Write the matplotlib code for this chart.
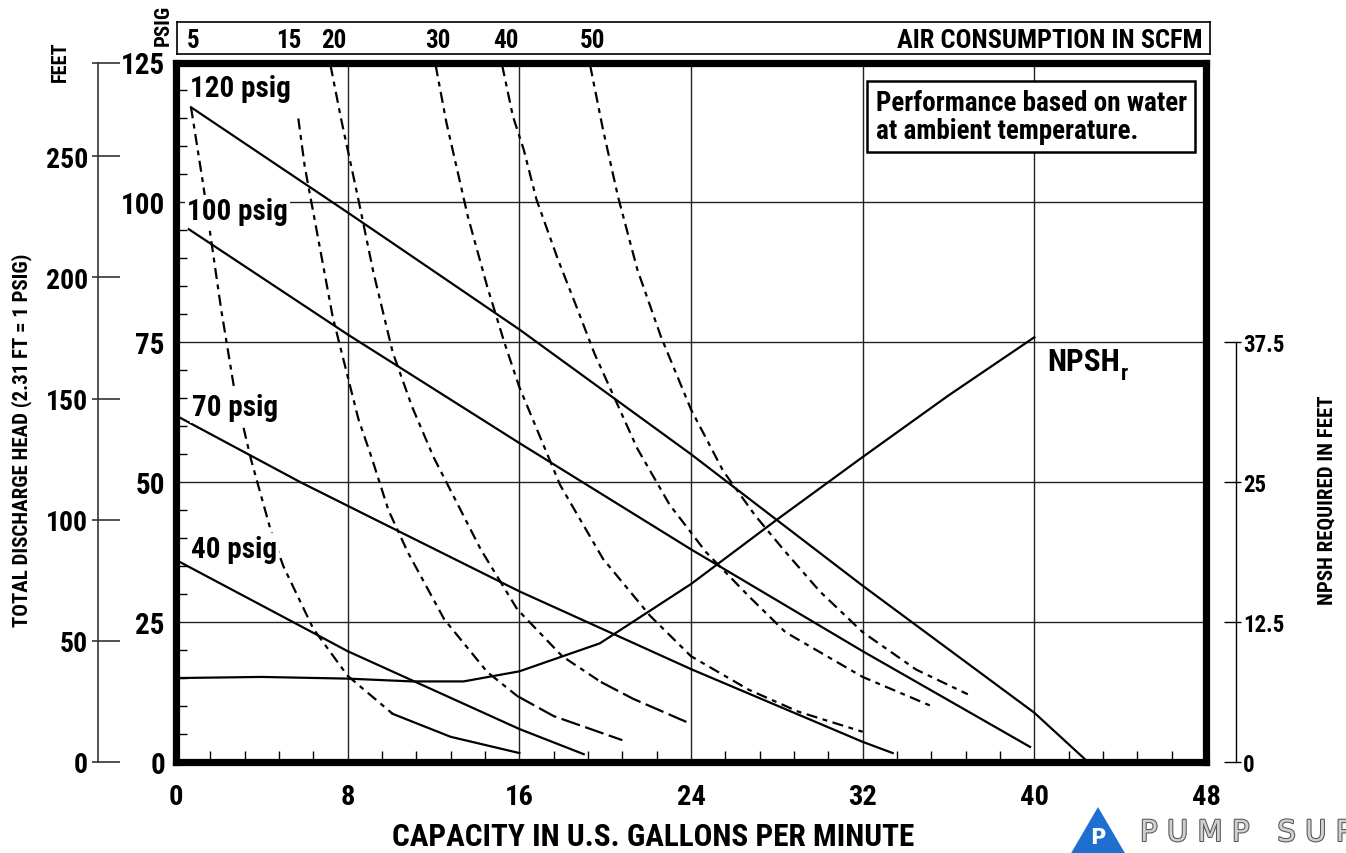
import os
import matplotlib
matplotlib.use("Agg")
import matplotlib.pyplot as plt
import matplotlib.font_manager as fm
from matplotlib.patches import Polygon
import matplotlib.patheffects as pe

# --- data (capacity in gpm, head in psig) ---
# pump curves at constant air inlet pressure
psig120_gpm = [0.7, 8, 16, 24, 32, 40, 42.5]
psig120_head = [117, 98.2, 77.3, 55, 31.5, 8.8, 0]
psig100_gpm = [0.6, 8, 16, 24, 32, 39.8]
psig100_head = [95.2, 76.4, 57, 38, 19.8, 2.7]
psig70_gpm = [0.15, 5.8, 9.06, 16, 24, 32, 33.4]
psig70_head = [61.6, 50, 43.75, 30.5, 16.6, 3.6, 1.6]
psig40_gpm = [0.1, 5.8, 8, 16, 19]
psig40_head = [35.9, 24.3, 19.8, 5.9, 1.4]

pressure_labels = ['120 psig', '100 psig', '70 psig', '40 psig']

# air consumption curves (SCFM)
scfm5_gpm = [0.7, 1.25, 2.1, 2.7, 3.5, 4.4, 5.0, 6.4, 8.0, 10.1, 12.8, 16.0]
scfm5_head = [117, 103.6, 81, 67, 54, 41.6, 35, 23.8, 15.4, 8.6, 4.5, 1.6]
scfm15_gpm = [5.7, 6.0, 6.7, 7.3, 8.0, 8.5, 9.1, 9.9, 10.8, 12.5, 14.5, 15.9, 17.6, 20.8]
scfm15_head = [115, 106.4, 92, 79.6, 68.9, 61.3, 54.6, 45, 37.5, 25.5, 16.1, 11.8, 8.2, 3.9]
scfm20_gpm = [7.2, 7.7, 8.5, 9.2, 10.1, 11.0, 12.0, 14.2, 15.9, 18.0, 19.8, 21.3, 24.0]
scfm20_head = [124.5, 114.8, 100.5, 87.5, 73.2, 63.5, 54.5, 38, 27.3, 18.9, 14.3, 11.3, 6.8]
scfm30_gpm = [12.1, 12.6, 13.1, 13.6, 14.5, 15.3, 16.0, 17.9, 19.9, 22.1, 24.0, 26.7, 29.0, 32.0]
scfm30_head = [124.5, 114.3, 105.9, 97.5, 85, 75, 67, 49.5, 36.3, 26.1, 18.9, 12.9, 9.0, 5.4]
scfm40_gpm = [15.2, 15.7, 16.2, 16.8, 17.8, 18.7, 19.5, 21.5, 23.0, 24.7, 26.7, 28.4, 32.0, 35.2]
scfm40_head = [124.5, 115.4, 109.5, 100.5, 89.8, 81, 73, 56, 46, 37.5, 29.6, 23.2, 15.2, 10]
scfm50_gpm = [19.3, 19.9, 20.6, 21.5, 22.6, 24.0, 25.5, 27.0, 28.3, 30.0, 32.0, 34.5, 36.9]
scfm50_head = [124.5, 113, 101, 88, 76, 63, 52, 44, 38, 30.5, 23.2, 16.5, 12.1]

scfm_labels = ['5', '15', '20', '30', '40', '50']
scfm_label_gpm = [0.75, 5.2, 7.3, 12.1, 15.3, 19.3]

# NPSH required (feet)
npsh_gpm = [0, 4, 8, 11, 13.4, 16, 19.75, 24, 28, 32, 36, 40]
npsh_feet = [7.5, 7.6, 7.45, 7.2, 7.2, 8.1, 10.6, 15.9, 21.65, 27.25, 32.75, 37.95]

feet_ticks = [0, 50, 100, 150, 200, 250]
npsh_ticks = [0, 12.5, 25, 37.5]

# --- font: look for a condensed bold face, else fall back to Liberation Sans ---
narrow = None
for key in ['liberationsansnarrowbold', 'arialnarrowbold', 'robotocondensedbold',
            'opensanscondensedbold', 'notosanscondensedbold']:
    for f in fm.fontManager.ttflist:
        norm = os.path.basename(f.fname).lower().replace('-', '').replace('_', '').replace(' ', '')
        if key in norm and 'italic' not in norm:
            narrow = f
            break
    if narrow:
        break

if narrow:
    plt.rcParams['font.family'] = [narrow.name, 'DejaVu Sans']
    plt.rcParams['font.stretch'] = narrow.stretch
    k = 1.0
else:
    plt.rcParams['font.family'] = ['Liberation Sans', 'DejaVu Sans']
    k = 0.85
plt.rcParams['font.weight'] = 'bold'
plt.rcParams['lines.scale_dashes'] = False


def fs(size):
    return size * k


# --- figure ---
W, H = 1346, 854
fig = plt.figure(figsize=(W / 100, H / 100), dpi=100)
ax = fig.add_axes([176 / W, 91 / H, 1030 / W, 699.5 / H])
ax.set_xlim(0, 48)
ax.set_ylim(0, 125)
for s in ax.spines.values():
    s.set_linewidth(5.2)
ax.set_xticks(range(0, 49, 8))
ax.set_yticks(range(0, 126, 25))
ax.set_xticks([i * 1.6 for i in range(1, 30) if i % 5], minor=True)
ax.set_yticks([i * 5 for i in range(1, 25) if i % 5], minor=True)
ax.tick_params(axis='x', which='major', length=0, labelsize=fs(20.5), pad=15)
ax.tick_params(axis='y', which='major', length=0, labelsize=fs(21), pad=8)
ax.tick_params(which='minor', direction='in', length=8, width=1)
ax.grid(True, which='major', color='#222222', lw=1.0)
ax.set_axisbelow(True)

lw = 1.6
for xs, ys in [(psig120_gpm, psig120_head), (psig100_gpm, psig100_head),
               (psig70_gpm, psig70_head), (psig40_gpm, psig40_head)]:
    ax.plot(xs, ys, color='black', lw=lw, zorder=3)

# dash-dot pattern along each air curve; the low-head tail is drawn in a longer stroke
air = [(scfm5_gpm, scfm5_head), (scfm15_gpm, scfm15_head), (scfm20_gpm, scfm20_head),
       (scfm30_gpm, scfm30_head), (scfm40_gpm, scfm40_head), (scfm50_gpm, scfm50_head)]
tail_from = [9, 11, 10, None, None, None]
tail_dash = [None, (14, 4), (14, 4), None, None, None]
for (xs, ys), t, td in zip(air, tail_from, tail_dash):
    end = len(xs) if t is None else t + 1
    ax.plot(xs[:end], ys[:end], color='black', lw=lw, dashes=(8, 4, 3.5, 4), zorder=3)
    if t is not None:
        if td is None:
            ax.plot(xs[t:], ys[t:], color='black', lw=lw, zorder=3)
        else:
            ax.plot(xs[t:], ys[t:], color='black', lw=lw, dashes=td, zorder=3)

label_pos = [(0.65, 120.5), (0.5, 98.4), (0.75, 63.4), (0.7, 38)]
for txt, (lx, ly) in zip(pressure_labels, label_pos):
    ax.text(lx, ly, txt, fontsize=fs(21), ha='left', va='center', zorder=5,
            bbox=dict(fc='white', ec='none', pad=1.5))

ax.text(32.6, 115.3, 'Performance based on water\nat ambient temperature.',
        fontsize=fs(19.5), ha='left', va='center', zorder=6, linespacing=1.05,
        bbox=dict(boxstyle='square,pad=0.3', fc='white', ec='black', lw=1.8))

npsh_txt = ax.text(40.6, 71.6, 'NPSH', fontsize=fs(22.5), ha='left', va='center', zorder=5)
ax.annotate('r', xy=(1.0, 0.1), xycoords=npsh_txt, xytext=(0.5, 0),
            textcoords='offset points', fontsize=fs(15.5), ha='left', va='center')

# NPSH axis on the right
ax_n = ax.twinx()
ax_n.set_ylim(0, 62.5)
ax_n.plot(npsh_gpm, npsh_feet, color='black', lw=lw, zorder=3)
for name in ['left', 'top', 'bottom']:
    ax_n.spines[name].set_visible(False)
ax_n.spines['right'].set_position(('outward', 21.6))
ax_n.spines['right'].set_bounds(0, 37.5)
ax_n.spines['right'].set_linewidth(1.0)
ax_n.yaxis.remove_overlapping_locs = False
ax_n.set_yticks(npsh_ticks, labels=['0', '12.5', '25', '37.5'])
ax_n.set_yticks(npsh_ticks, minor=True)
ax_n.tick_params(axis='y', which='major', direction='in', length=8.6, width=1,
                 labelsize=fs(16.5), pad=5)
ax_n.tick_params(axis='y', which='minor', direction='out', length=3.6, width=1)

# feet axis on the far left
ax_f = ax.twinx()
ax_f.set_ylim(0, 125 * 2.31)
ax_f.yaxis.tick_left()
for name in ['right', 'top', 'bottom']:
    ax_f.spines[name].set_visible(False)
ax_f.spines['left'].set_visible(True)
ax_f.spines['left'].set_position(('outward', 56.5))
ax_f.spines['left'].set_linewidth(1.2)
ax_f.spines['left'].set_color('#333333')
ax_f.yaxis.remove_overlapping_locs = False
ax_f.set_yticks(feet_ticks + [125 * 2.31], labels=[str(v) for v in feet_ticks] + [''])
ax_f.set_yticks(feet_ticks + [125 * 2.31], minor=True)
ax_f.tick_params(axis='y', which='major', direction='in', length=16, width=1.2,
                 color='#333333', labelsize=fs(20), pad=7)
ax_f.tick_params(axis='y', which='minor', direction='out', length=4.3, width=1.2,
                 color='#333333')

# air consumption header box
ax_t = fig.add_axes([177 / W, (H - 55) / H, 1033 / W, 32 / H])
ax_t.set_xlim(0, 48)
ax_t.set_ylim(0, 1)
ax_t.set_xticks([])
ax_t.set_yticks([])
for s in ax_t.spines.values():
    s.set_linewidth(1.2)
for txt, lx in zip(scfm_labels, scfm_label_gpm):
    ax_t.text(lx, 0.45, txt, fontsize=fs(18), ha='center', va='center')
ax_t.text(0.993, 0.45, 'AIR CONSUMPTION IN SCFM', transform=ax_t.transAxes,
          fontsize=fs(19), ha='right', va='center')

fig.text(163 / W, 1 - 25 / H, 'PSIG', rotation=90, fontsize=fs(15), ha='center', va='center')
fig.text(60 / W, 1 - 62 / H, 'FEET', rotation=90, fontsize=fs(14.7), ha='center', va='center')
fig.text(22 / W, 1 - 440 / H, 'TOTAL DISCHARGE HEAD (2.31 FT = 1 PSIG)', rotation=90,
         fontsize=fs(15), ha='center', va='center')
fig.text(1327 / W, 1 - 500 / H, 'NPSH REQUIRED IN FEET', rotation=90,
         fontsize=fs(15), ha='center', va='center')
fig.text(653 / W, 1 - 837 / H, 'CAPACITY IN U.S. GALLONS PER MINUTE',
         fontsize=fs(22.5), ha='center', va='center')

# logo
fig.patches.append(Polygon([(1070 / W, -2 / H), (1098 / W, 46 / H), (1126 / W, -2 / H)],
                           closed=True, transform=fig.transFigure, fc='#1f6fd1', ec='none'))
fig.text(1098 / W, 1 - 838 / H, 'P', fontsize=15, color='white', ha='center', va='center',
         family='DejaVu Sans', fontstretch='normal')
fig.text(1140 / W, 1 - 834 / H, 'P U M P   S U P P L Y', fontsize=21, color='#d0d0d0',
         ha='left', va='center', family='DejaVu Sans', fontweight='normal',
         fontstretch='normal',
         path_effects=[pe.withStroke(linewidth=1.5, foreground='#555555')])

fig.savefig('out.png', dpi=100)
